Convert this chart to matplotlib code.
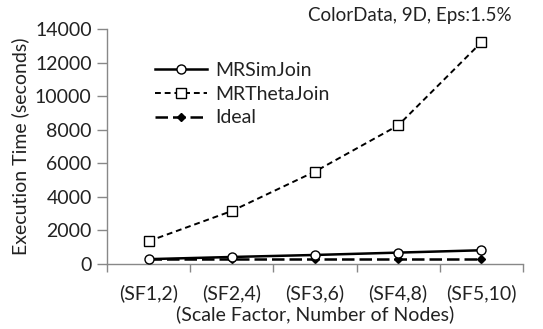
import matplotlib
matplotlib.use('Agg')
import matplotlib.pyplot as plt
from matplotlib.ticker import FixedLocator, NullFormatter

plt.rcParams['font.family'] = ['Lato', 'DejaVu Sans']
plt.rcParams['text.color'] = '#222222'
plt.rcParams['xtick.labelcolor'] = '#222222'
plt.rcParams['ytick.labelcolor'] = '#222222'
plt.rcParams['axes.labelcolor'] = '#222222'

# Data
categories = ['(SF1,2)', '(SF2,4)', '(SF3,6)', '(SF4,8)', '(SF5,10)']
mrsimjoin = [280, 410, 530, 670, 810]
mrthetajoin = [1350, 3150, 5500, 8250, 13200]
ideal = [280, 280, 280, 280, 280]

x = list(range(len(categories)))

fig = plt.figure(figsize=(5.43, 3.29), dpi=100)
ax = fig.add_axes([0.197, 0.198, 0.766, 0.714])

ax.plot(x, mrsimjoin, color='black', linewidth=1.8, marker='o', markersize=6.5,
        markerfacecolor='white', markeredgecolor='black', markeredgewidth=1,
        label='MRSimJoin', zorder=3)
ax.plot(x, mrthetajoin, color='black', linewidth=1.4, linestyle=(0, (3, 2)),
        marker='s', markersize=6.5, markerfacecolor='white',
        markeredgecolor='black', markeredgewidth=1, label='MRThetaJoin', zorder=3)
ax.plot(x, ideal, color='black', linewidth=1.8, linestyle=(0, (5, 2)),
        marker='D', markersize=4.5, markerfacecolor='black',
        label='Ideal', zorder=2)

ax.set_xlim(-0.5, len(categories) - 0.5)
ax.set_ylim(0, 14000)
ax.set_yticks(range(0, 14001, 2000))
ax.set_xticks(x)
ax.set_xticklabels(categories)
ax.xaxis.set_minor_locator(FixedLocator([i - 0.5 for i in range(len(categories) + 1)]))
ax.xaxis.set_minor_formatter(NullFormatter())
ax.tick_params(axis='x', which='major', length=0, pad=15, labelsize=14)
ax.tick_params(axis='x', which='minor', length=6, color='#888888', width=1)
ax.tick_params(axis='y', length=7, color='#888888', width=1, labelsize=14, pad=4)

for s in ['top', 'right']:
    ax.spines[s].set_visible(False)
for s in ['left', 'bottom']:
    ax.spines[s].set_color('#888888')
    ax.spines[s].set_linewidth(1)

ax.set_ylabel('Execution Time (seconds)', fontsize=14, labelpad=4)
ax.set_xlabel('(Scale Factor, Number of Nodes)', fontsize=14, labelpad=2)

fig.text(0.943, 0.954, 'ColorData, 9D, Eps:1.5%', ha='right', va='center', fontsize=13.5)

ax.legend(loc='upper left', bbox_to_anchor=(0.115, 0.86), frameon=False,
          fontsize=14, handlelength=2.7, handletextpad=0.4, labelspacing=0.35,
          borderpad=0, borderaxespad=0)

fig.savefig('out.png', dpi=100)
